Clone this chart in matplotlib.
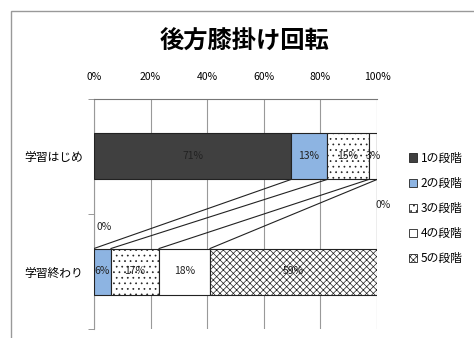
import matplotlib
matplotlib.use("Agg")
import matplotlib.pyplot as plt
from matplotlib.patches import Rectangle, Patch
import numpy as np

plt.rcParams['font.family'] = ['Noto Sans CJK JP', 'DejaVu Sans']
plt.rcParams['hatch.linewidth'] = 0.5

title = "後方膝掛け回転"
categories = ["学習はじめ", "学習終わり"]
series_names = ["1の段階", "2の段階", "3の段階", "4の段階", "5の段階"]
start_vals = [71, 13, 15, 3, 0]
end_vals = [0, 6, 17, 18, 59]
xticks = [0, 20, 40, 60, 80, 100]

faces = ["#404040", "#8db4e2", "white", "white", "white"]
hatches = [None, None, "...", None, "xxxxx"]

fig = plt.figure(figsize=(4.74, 3.38), dpi=100)
W, H = 474, 338
ax = fig.add_axes([94 / W, 1 - 329 / H, (377 - 94) / W, (329 - 99) / H])

data = np.array([start_vals, end_vals], dtype=float)
pct = data / data.sum(axis=1, keepdims=True) * 100
cum = np.cumsum(pct, axis=1)
left = cum - pct
bh = 0.4

for j in range(len(series_names)):
    for i in range(2):
        ax.barh(i, pct[i, j], left=left[i, j], height=bh, color=faces[j],
                edgecolor="#222222", linewidth=0.8, hatch=hatches[j], zorder=3)
        v = [start_vals, end_vals][i][j]
        if v > 0:
            ax.text(left[i, j] + pct[i, j] / 2, i, f"{v}%", ha="center", va="center",
                    fontsize=7.5, color="#222222", zorder=5)

# zero labels
ax.text(99.5, 0.42, "0%", ha="left", va="center", fontsize=7.5, color="#222222", zorder=5, clip_on=False)
ax.text(1.0, 0.61, "0%", ha="left", va="center", fontsize=7.5, color="#222222", zorder=5)

# series lines
for j in range(len(series_names)):
    ax.plot([cum[0, j], cum[1, j]], [0 + bh / 2, 1 - bh / 2], color="#222222", lw=0.8, zorder=4)

ax.set_xlim(0, 100)
ax.set_ylim(1.5, -0.5)
ax.xaxis.tick_top()
ax.set_xticks(xticks)
ax.set_xticklabels([f"{t}%" for t in xticks], fontsize=7.5)
ax.tick_params(axis="x", length=0, pad=12)
ax.set_yticks([0, 1])
ax.set_yticklabels(categories, fontsize=8.5)
ax.set_yticks([-0.5, 0.5, 1.5], minor=True)
ax.tick_params(axis="y", which="major", length=0, pad=8)
ax.tick_params(axis="y", which="minor", length=4, color="#888888")
ax.grid(axis="x", color="#999999", lw=0.8, zorder=0)
for s in ["right", "bottom"]:
    ax.spines[s].set_visible(False)
ax.spines["left"].set_color("#999999")
ax.spines["top"].set_color("#777777")

handles = [Patch(facecolor=faces[j], edgecolor="#222222", hatch=hatches[j], linewidth=0.6)
           for j in range(len(series_names))]
fig.legend(handles, series_names, loc="upper left", bbox_to_anchor=(404 / W, 1 - 147 / H),
           frameon=False, fontsize=8.5, handlelength=0.7, handleheight=0.7,
           handletextpad=0.3, labelspacing=1.03, borderaxespad=0)

fig.text(245 / W, 1 - 42 / H, title, ha="center", va="center", fontsize=17.5, fontweight="bold")

fig.patches.append(Rectangle((11 / W, -0.1), 1.2, 1 - 11 / H + 0.1, transform=fig.transFigure,
                             fill=False, edgecolor="#999999", lw=1))

fig.savefig("out.png", dpi=100)
